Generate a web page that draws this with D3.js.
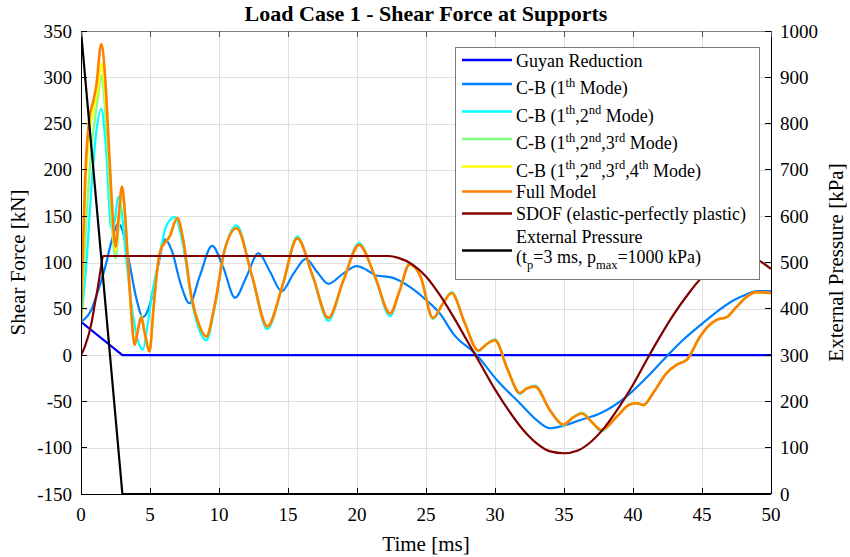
<!DOCTYPE html>
<html>
<head>
<meta charset="utf-8">
<script src="https://cdn.jsdelivr.net/npm/d3@7"></script>
<style>
  body { margin: 0; background: #fff; }
  svg { display: block; font-family: "Liberation Serif", "Times New Roman", serif; }
</style>
</head>
<body>
<div id="chart"></div>
<script>
// time [ms] / shear force [kN]
var guyan = [[0, 36], [3, 0], [50, 0]];

var cb1 = [[0, 36], [0.75, 49], [1.2, 68], [1.7, 92], [2.2, 122], [2.68, 142], [3.0, 135], [3.5, 100],
    [4.0, 62], [4.49, 41], [5.0, 55], [5.5, 90], [6.1, 125], [6.6, 112], [7.2, 78], [7.87, 56],
    [8.6, 85], [9.5, 118], [10.3, 95], [11.16, 62], [12.0, 85], [12.85, 110], [13.7, 90], [14.54, 69],
    [15.4, 88], [16.3, 104], [17.1, 90], [17.92, 77], [19.0, 88], [19.98, 96], [20.7, 92], [21.4, 86],
    [22.5, 84], [23.8, 74], [25.05, 59], [26.0, 45], [26.98, 23], [28.67, 0], [30.2, -28], [31.8, -52],
    [33.0, -70], [33.99, -79], [35.0, -76], [36.2, -70], [37.6, -63], [39.5, -45], [41.0, -24],
    [42.4, -2], [43.6, 16], [44.86, 32], [46.0, 46], [47.27, 59], [48.3, 66], [48.96, 69], [50, 69]];

var cb12 = [[0, 36], [0.39, 99], [0.8, 190], [1.1, 240], [1.47, 266], [1.8, 225], [2.2, 137], [2.45, 145],
    [2.68, 171], [2.9, 160], [3.3, 100], [3.8, 40], [4.2, 12], [4.49, 6], [4.8, 30], [5.2, 70],
    [5.58, 99], [6.2, 140], [6.79, 149], [7.4, 118], [8.0, 60], [8.5, 30], [9.08, 16], [9.7, 52],
    [10.4, 112], [11.28, 140], [12.4, 84], [13.5, 28], [14.6, 75], [15.67, 128], [16.8, 84],
    [17.92, 37], [19.0, 80], [20.15, 121], [21.3, 84], [22.4, 42], [23.1, 70], [23.8, 99], [24.6, 85],
    [25.5, 39], [26.2, 55], [26.86, 68], [27.8, 35], [28.79, 4], [29.4, 12], [30.0, 17], [30.9, -15],
    [31.8, -42], [32.3, -36], [32.9, -33], [34.0, -60], [34.95, -76], [35.6, -68], [36.3, -62],
    [37.0, -72], [37.7, -82], [38.8, -67], [39.8, -53], [40.3, -52], [40.75, -54], [41.5, -40],
    [42.4, -20], [43.2, -10], [43.9, -5], [44.86, 20], [45.5, 32], [46.06, 38], [46.79, 41],
    [47.5, 52], [48.24, 63], [48.96, 68], [50, 67]];

var cb123Early = [[0, 36], [0.4, 150], [0.8, 230], [1.2, 275], [1.5, 302], [1.8, 250], [2.2, 150],
    [2.5, 104], [2.75, 140], [2.97, 178], [3.2, 148], [3.41, 97], [3.6, 53], [3.89, 12], [4.1, 28],
    [4.37, 43], [4.6, 27], [4.97, 6]];

var cb1234Early = [[0, 36], [0.3, 170], [0.6, 240], [0.9, 265], [1.2, 285], [1.5, 315], [1.8, 270],
    [2.0, 230], [2.2, 170], [2.5, 112], [2.7, 142], [2.97, 181], [3.2, 150], [3.41, 99], [3.6, 55],
    [3.89, 11], [4.1, 25], [4.37, 41], [4.6, 25], [4.97, 4]];

var fullModel = [[0, 36], [0.15, 120], [0.3, 190], [0.6, 255], [0.9, 275], [1.1, 290], [1.47, 336],
    [1.75, 300], [1.96, 243], [2.2, 175], [2.5, 117], [2.7, 145], [2.97, 182], [3.2, 150], [3.41, 99],
    [3.6, 55], [3.89, 11], [4.1, 25], [4.37, 41], [4.6, 25], [4.97, 4], [5.25, 50], [5.58, 99],
    [5.8, 115], [6.06, 121], [6.42, 128], [6.98, 148], [7.4, 125], [8.0, 63], [8.5, 35], [9.08, 20],
    [9.7, 55], [10.4, 113], [11.28, 137], [12.4, 85], [13.5, 31], [14.6, 75], [15.67, 126],
    [16.8, 85], [17.92, 40], [19.0, 80], [20.15, 119], [21.3, 85], [22.4, 45], [23.1, 70], [23.8, 98],
    [24.6, 85], [25.5, 40], [26.2, 55], [26.86, 67], [27.8, 35], [28.79, 5], [29.4, 12], [30.0, 16],
    [30.9, -15], [31.8, -41], [32.3, -36], [32.9, -34], [34.0, -60], [34.95, -75], [35.6, -68],
    [36.3, -63], [37.0, -72], [37.7, -81], [38.8, -67], [39.8, -53], [40.3, -52], [40.75, -54],
    [41.5, -40], [42.4, -20], [43.2, -10], [43.9, -5], [44.86, 20], [45.5, 32], [46.06, 38],
    [46.79, 41], [47.5, 52], [48.24, 63], [48.96, 68], [50, 67]];

var sdof = [[0, 0], [0.3, 10], [0.75, 34], [1.0, 55], [1.23, 74], [1.45, 95], [1.6, 107], [22.3, 107],
    [23, 105], [24, 98], [25, 85], [26, 65], [27, 41], [28, 15], [29, -11], [30, -37], [31, -60],
    [32, -80], [33, -95], [34, -104], [35, -106], [36, -103], [37, -93], [38, -77], [39, -56],
    [40, -32], [41, -5], [42, 21], [43, 45], [44, 66], [45, 84], [46, 96], [47, 103], [48, 106],
    [49, 103], [50, 93]];

// time [ms] / pressure [kPa], right axis
var pressure = [[0, 1000], [3, 0], [50, 0]];

var xTicks = [0, 5, 10, 15, 20, 25, 30, 35, 40, 45, 50];
var yTicks = [-150, -100, -50, 0, 50, 100, 150, 200, 250, 300, 350];
var yRightTicks = [0, 100, 200, 300, 400, 500, 600, 700, 800, 900, 1000];

var seriesLabels = [
    "Guyan Reduction",
    "C-B (1^{th} Mode)",
    "C-B (1^{th},2^{nd} Mode)",
    "C-B (1^{th},2^{nd},3^{rd} Mode)",
    "C-B (1^{th},2^{nd},3^{rd},4^{th} Mode)",
    "Full Model",
    "SDOF (elastic-perfectly plastic)",
    "External Pressure\n(t_{p}=3 ms, p_{max}=1000 kPa)"
];
var seriesColors = ["#0000ff", "#0080ff", "#00ffff", "#80ff80", "#ffff00", "#ff8000", "#800000", "#000000"];

(function() {
    var width = 850, height = 557;
    var left = 81, right = 771, top = 31, bottom = 494;

    var svg = d3.select("#chart").append("svg")
        .attr("width", width)
        .attr("height", height);

    var x = d3.scaleLinear().domain([0, 50]).range([left, right]);
    var y = d3.scaleLinear().domain([-150, 350]).range([bottom, top]);
    var yR = d3.scaleLinear().domain([0, 1000]).range([bottom, top]);

    // grid
    var grid = svg.append("g").attr("stroke", "#dfdfdf").attr("stroke-width", 1);
    xTicks.slice(1, -1).forEach(function(t) {
        grid.append("line").attr("x1", x(t) + 0.5).attr("x2", x(t) + 0.5).attr("y1", top).attr("y2", bottom);
    });
    yTicks.slice(1, -1).forEach(function(v) {
        grid.append("line").attr("x1", left).attr("x2", right).attr("y1", Math.round(y(v)) + 0.5).attr("y2", Math.round(y(v)) + 0.5);
    });

    // early parts of 3rd/4th mode runs, then they sit under the full model
    var cb123 = cb123Early.concat(fullModel.filter(function(d) { return d[0] > 4.97; }));
    var cb1234 = cb1234Early.concat(fullModel.filter(function(d) { return d[0] > 4.97; }));

    var leftSeries = [guyan, cb1, cb12, cb123, cb1234, fullModel, sdof];

    svg.append("defs").append("clipPath").attr("id", "plot-clip")
        .append("rect").attr("x", left).attr("y", top - 2).attr("width", right - left).attr("height", bottom - top + 4);

    var plot = svg.append("g").attr("clip-path", "url(#plot-clip)");

    var smooth = d3.line().x(function(d) { return x(d[0]); }).y(function(d) { return y(d[1]); }).curve(d3.curveMonotoneX);
    var straight = d3.line().x(function(d) { return x(d[0]); }).y(function(d) { return y(d[1]); });

    leftSeries.forEach(function(s, i) {
        plot.append("path")
            .attr("d", i === 0 ? straight(s) : smooth(s))
            .attr("fill", "none")
            .attr("stroke", seriesColors[i])
            .attr("stroke-width", i === 5 ? 2.6 : 2.2)
            .attr("stroke-linejoin", "round");
    });

    plot.append("path")
        .attr("d", d3.line().x(function(d) { return x(d[0]); }).y(function(d) { return yR(d[1]); })(pressure))
        .attr("fill", "none")
        .attr("stroke", seriesColors[7])
        .attr("stroke-width", 2.2);

    // axes box
    var axes = svg.append("g").attr("stroke-width", 1).attr("shape-rendering", "crispEdges");
    axes.append("line").attr("x1", left).attr("x2", right).attr("y1", top).attr("y2", top).attr("stroke", "#808080");
    axes.append("line").attr("x1", left).attr("x2", right).attr("y1", bottom).attr("y2", bottom).attr("stroke", "#000");
    axes.append("line").attr("x1", left).attr("x2", left).attr("y1", top).attr("y2", bottom).attr("stroke", "#000");
    axes.append("line").attr("x1", right).attr("x2", right).attr("y1", top).attr("y2", bottom).attr("stroke", "#000");

    xTicks.forEach(function(t) {
        axes.append("line").attr("x1", x(t)).attr("x2", x(t)).attr("y1", bottom).attr("y2", bottom - 6).attr("stroke", "#000");
        axes.append("line").attr("x1", x(t)).attr("x2", x(t)).attr("y1", top).attr("y2", top + 6).attr("stroke", "#555");
    });
    yTicks.forEach(function(v) {
        axes.append("line").attr("x1", left).attr("x2", left + 6).attr("y1", y(v)).attr("y2", y(v)).attr("stroke", "#000");
    });
    yRightTicks.forEach(function(v) {
        axes.append("line").attr("x1", right).attr("x2", right - 6).attr("y1", yR(v)).attr("y2", yR(v)).attr("stroke", "#000");
    });

    var labels = svg.append("g").attr("fill", "#000").style("font-size", "19px");
    xTicks.forEach(function(t) {
        labels.append("text").attr("x", x(t)).attr("y", bottom + 27).attr("text-anchor", "middle").text(t);
    });
    yTicks.forEach(function(v) {
        labels.append("text").attr("x", left - 9).attr("y", y(v) + 6.5).attr("text-anchor", "end").text(v);
    });
    yRightTicks.forEach(function(v) {
        labels.append("text").attr("x", right + 9).attr("y", yR(v) + 6.5).attr("text-anchor", "start").text(v);
    });

    // titles
    svg.append("text")
        .attr("x", (left + right) / 2).attr("y", 21)
        .attr("text-anchor", "middle")
        .style("font-size", "22px").style("font-weight", "bold")
        .text("Load Case 1 - Shear Force at Supports");

    svg.append("text")
        .attr("x", (left + right) / 2).attr("y", 551)
        .attr("text-anchor", "middle")
        .style("font-size", "21px")
        .text("Time [ms]");

    svg.append("text")
        .attr("transform", "translate(25," + ((top + bottom) / 2) + ") rotate(-90)")
        .attr("text-anchor", "middle")
        .style("font-size", "21px")
        .text("Shear Force [kN]");

    svg.append("text")
        .attr("transform", "translate(843," + ((top + bottom) / 2) + ") rotate(-90)")
        .attr("text-anchor", "middle")
        .style("font-size", "21px")
        .text("External Pressure [kPa]");

    // legend
    var legend = svg.append("g");
    legend.append("rect")
        .attr("x", 455.5).attr("y", 47.5).attr("width", 304).attr("height", 232)
        .attr("fill", "#fff").attr("stroke", "#7a7a7a").attr("stroke-width", 1);

    var lineY = [60, 84, 111.5, 139, 166.5, 191.5, 213.5, 250.5];
    var textY = [66.5, 94, 121.5, 149, 176.5, 197.5, 220, 242.5];

    function richText(sel, str) {
        var parts = str.split(/(\^\{[^}]*\}|_\{[^}]*\})/).filter(function(p) { return p.length; });
        var shift = 0;
        parts.forEach(function(p) {
            var target = 0, size = 18, txt = p;
            if (p[0] === "^") { target = -7.5; size = 12.5; txt = p.slice(2, -1); }
            else if (p[0] === "_") { target = 6; size = 12.5; txt = p.slice(2, -1); }
            sel.append("tspan").attr("dy", target - shift).style("font-size", size + "px").text(txt);
            shift = target;
        });
    }

    seriesLabels.forEach(function(label, i) {
        legend.append("line")
            .attr("x1", 462).attr("x2", 512).attr("y1", lineY[i]).attr("y2", lineY[i])
            .attr("stroke", seriesColors[i]).attr("stroke-width", 2.4);
        label.split("\n").forEach(function(row, j) {
            var t = legend.append("text").attr("x", 516).attr("y", textY[i] + j * 20).style("font-size", "18px");
            richText(t, row);
        });
    });
})();
</script>
</body>
</html>
